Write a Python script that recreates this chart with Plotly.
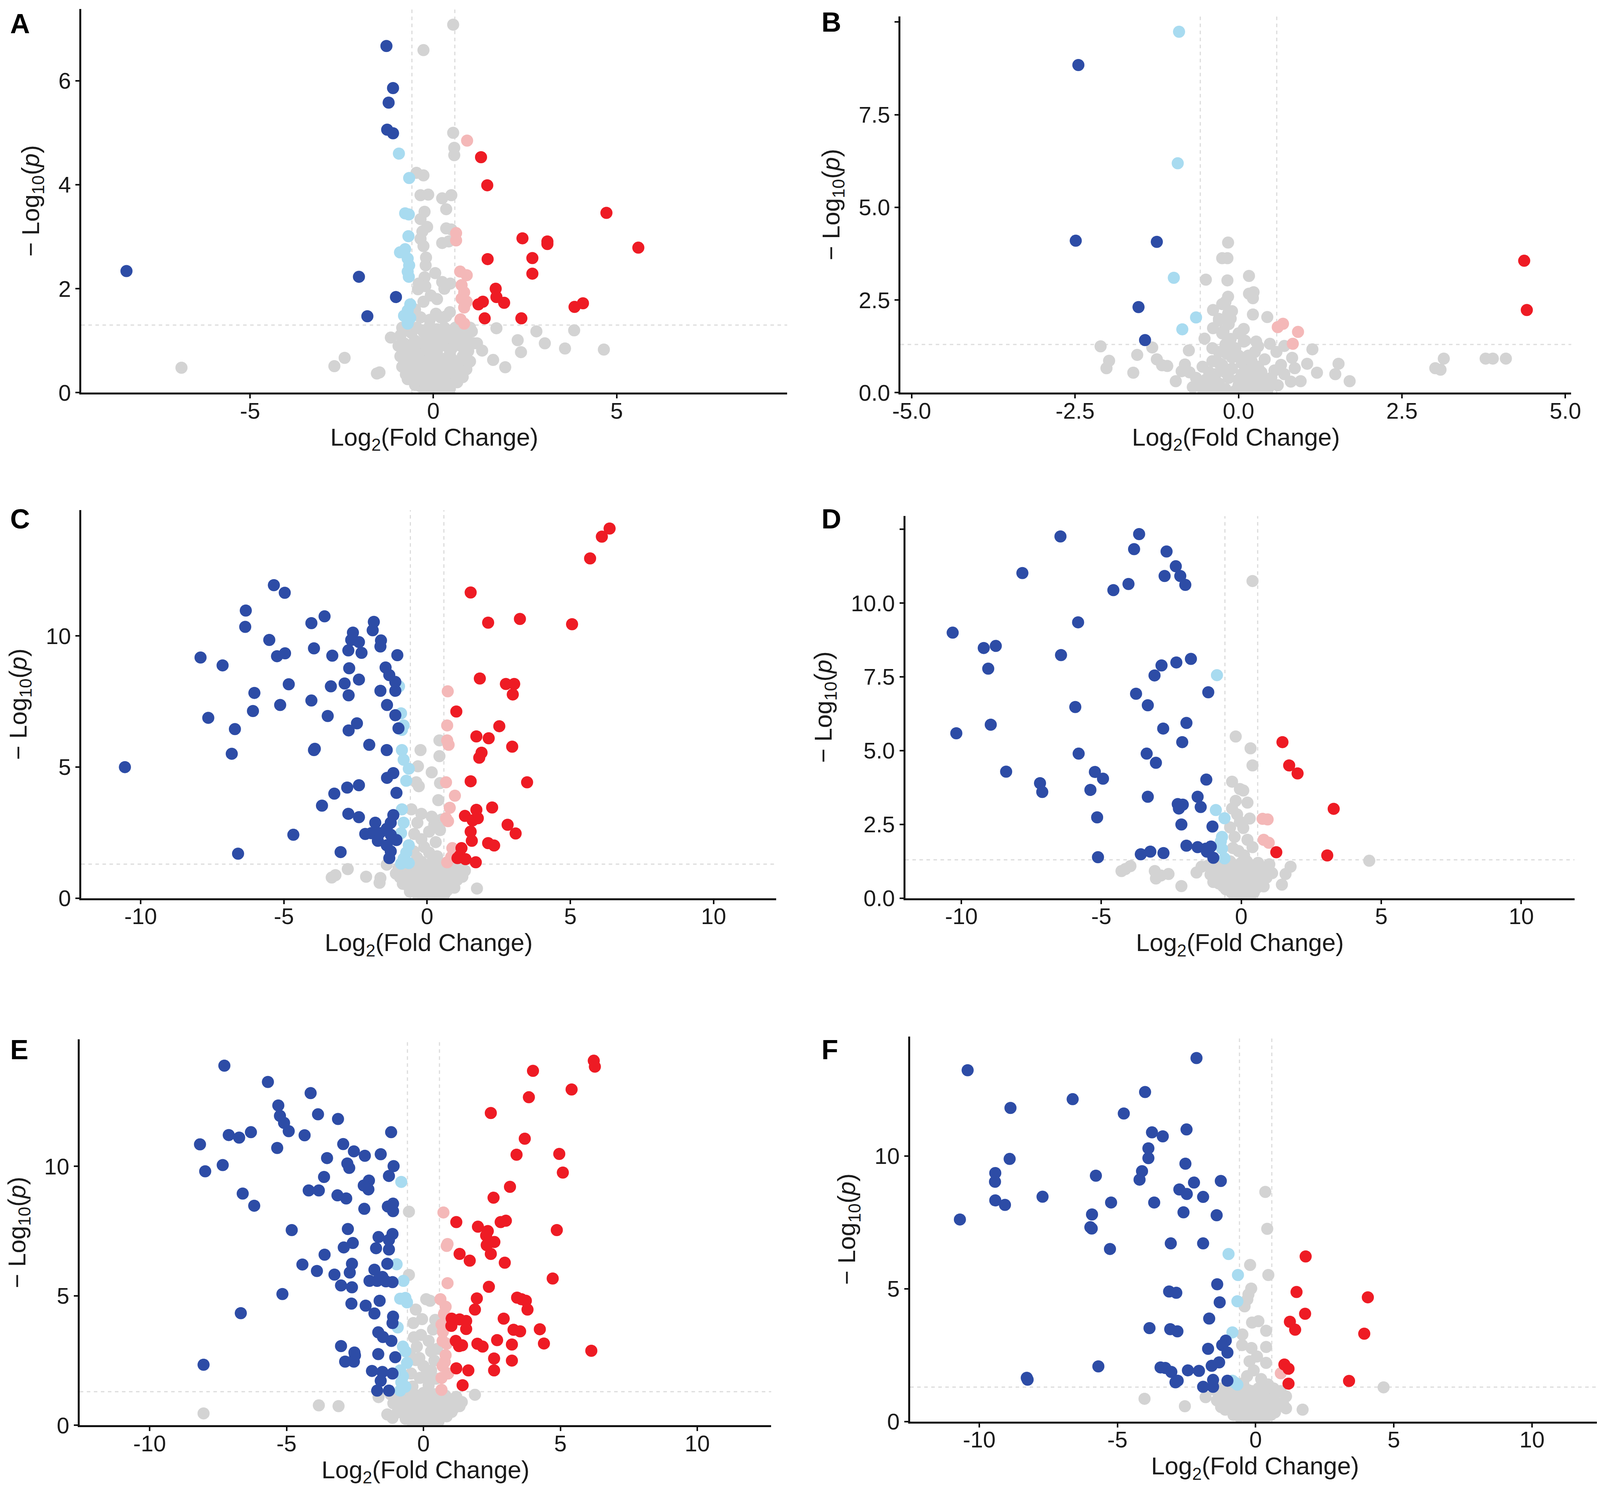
import plotly.graph_objects as go

# log2 fold change / -log10(p) pairs
A_pts = [
    (-1.28, 6.67), (-1.10, 5.86), (-1.22, 5.58), (-1.26, 5.06), (-1.10, 4.99), (-8.37, 2.34),
    (-2.03, 2.23), (-1.02, 1.84), (-1.80, 1.47),
    (-0.94, 4.60), (-0.66, 4.13), (-0.77, 3.45), (-0.67, 3.43), (-0.68, 3.01), (-0.91, 2.70),
    (-0.77, 2.76), (-0.70, 2.58), (-0.66, 2.45), (-0.70, 2.33), (-0.67, 2.23), (-0.63, 1.70),
    (-0.70, 1.58), (-0.80, 1.48), (-0.63, 1.44), (-0.70, 1.33),
    (1.30, 4.53), (1.47, 3.99), (4.72, 3.46), (2.43, 2.97), (3.11, 2.91), (3.11, 2.86),
    (5.59, 2.79), (1.48, 2.57), (2.70, 2.59), (2.70, 2.29), (1.70, 2.00), (1.72, 1.84),
    (1.93, 1.73), (1.35, 1.75), (1.23, 1.70), (3.85, 1.65), (4.08, 1.72), (1.40, 1.43), (2.40, 1.43),
    (0.92, 4.85), (0.62, 3.07), (0.62, 2.93), (0.73, 2.33), (0.91, 2.26), (0.77, 2.07),
    (0.84, 1.93), (0.77, 1.81), (0.91, 1.75), (0.84, 1.64), (0.74, 1.41), (0.84, 1.33),
    (0.54, 7.08), (-0.27, 6.59), (0.54, 5.00), (0.57, 4.71), (0.57, 4.57), (-0.46, 4.23),
    (-0.27, 4.18), (-0.35, 3.80), (-0.14, 3.81), (0.24, 3.74), (0.49, 3.80), (0.35, 3.53),
    (-0.24, 3.48), (-0.35, 3.34), (-0.17, 3.19), (0.35, 3.16), (0.49, 3.14), (-0.35, 2.96),
    (-0.27, 2.82), (0.24, 2.88), (0.42, 2.91), (-0.21, 2.45), (-0.24, 2.22), (0.24, 2.13),
    (0.46, 2.10), (-0.42, 1.99), (-0.27, 1.75), (-0.07, 1.87), (0.07, 1.52), (0.35, 1.47),
    (-0.50, 1.60), (-0.35, 1.45), (-0.10, 1.40), (0.20, 1.45), (0.45, 1.55), (-0.40, 2.10),
    (0.10, 1.80), (0.30, 2.00), (-0.20, 2.60), (0.05, 2.30), (-0.30, 3.10), (-0.22, 2.05),
    (1.72, 1.24), (2.81, 1.18), (3.84, 1.20), (2.30, 1.01), (3.04, 0.95), (3.59, 0.85),
    (4.65, 0.83), (2.39, 0.78), (1.63, 0.63), (1.96, 0.49), (-6.87, 0.48), (-2.42, 0.67),
    (-2.70, 0.51), (-1.47, 0.39), (-1.54, 0.37), (-1.16, 1.06), (-0.70, 0.26), (1.19, 0.95),
    (1.33, 0.81), (1.05, 1.18),
    (-0.90, 1.10), (-0.75, 1.20), (-0.60, 1.15), (-0.45, 1.25), (-0.30, 1.20), (-0.10, 1.28),
    (0.10, 1.22), (0.30, 1.25), (0.50, 1.20), (0.70, 1.10), (0.90, 1.05), (1.10, 0.95),
    (-0.95, 0.90), (-0.80, 0.95), (-0.65, 0.85), (-0.50, 1.00), (-0.35, 0.90), (-0.20, 1.05),
    (0.00, 0.95), (0.15, 1.05), (0.35, 0.90), (0.55, 1.00), (0.75, 0.90), (0.95, 0.80),
    (-0.90, 0.70), (-0.70, 0.65), (-0.55, 0.75), (-0.40, 0.60), (-0.25, 0.75), (-0.05, 0.70),
    (0.10, 0.80), (0.25, 0.65), (0.45, 0.75), (0.60, 0.60), (0.80, 0.70), (1.00, 0.60),
    (-0.85, 0.50), (-0.70, 0.45), (-0.50, 0.50), (-0.35, 0.40), (-0.15, 0.55), (0.00, 0.45),
    (0.20, 0.50), (0.40, 0.40), (0.55, 0.50), (0.70, 0.40), (0.90, 0.45), (-0.60, 0.30),
    (-0.45, 0.25), (-0.30, 0.30), (-0.10, 0.25), (0.10, 0.30), (0.30, 0.25), (0.50, 0.30),
    (0.65, 0.20), (-0.35, 0.12), (-0.20, 0.08), (0.00, 0.10), (0.15, 0.05), (0.30, 0.12),
    (0.45, 0.08), (-0.10, 0.02), (0.20, 0.02),
    (-0.85, 1.25), (-0.65, 1.28), (-0.55, 0.95), (-0.25, 1.15), (0.05, 1.12), (0.25, 1.05),
    (0.40, 1.10), (0.60, 1.25), (0.85, 1.20), (1.00, 1.25), (-0.75, 0.80), (-0.45, 0.75),
    (-0.15, 0.90), (0.20, 0.95), (0.50, 0.85), (0.65, 0.95), (0.85, 1.00), (-0.80, 0.60),
    (-0.60, 0.55), (-0.30, 0.60), (-0.10, 0.40), (0.05, 0.60), (0.30, 0.60), (0.50, 0.65),
    (0.75, 0.55), (0.95, 0.60), (-0.75, 0.35), (-0.55, 0.40), (-0.20, 0.35), (0.05, 0.35),
    (0.25, 0.38), (0.45, 0.45), (0.60, 0.35), (0.80, 0.30), (-0.50, 0.15), (-0.25, 0.20),
    (0.05, 0.18), (0.25, 0.15), (0.40, 0.02), (-0.15, 0.15),
]

B_pts = [
    (-2.45, 8.84), (-2.49, 4.10), (-1.25, 4.07), (-1.53, 2.31), (-1.43, 1.42),
    (-0.91, 9.74), (-0.93, 6.19), (-0.99, 3.10), (-0.65, 2.03), (-0.86, 1.71),
    (4.37, 3.56), (4.41, 2.23),
    (0.68, 1.86), (0.60, 1.77), (0.91, 1.64), (0.83, 1.32),
    (-0.16, 4.05), (-0.25, 3.63), (-0.17, 3.63), (0.16, 3.15), (-0.50, 3.05), (-0.17, 3.03),
    (-0.16, 2.59), (0.16, 2.67), (0.23, 2.71), (0.22, 2.55), (0.22, 2.11), (0.44, 2.04),
    (-0.25, 2.39), (-0.39, 2.23), (-0.16, 2.13), (-0.30, 1.99), (0.08, 1.72), (-0.39, 1.74),
    (-0.23, 1.66), (0.08, 1.38), (0.27, 1.38), (-0.52, 1.46),
    (-2.11, 1.25), (-1.55, 1.02), (-1.32, 1.22), (-1.98, 0.86), (-2.02, 0.66), (-1.61, 0.54),
    (-1.25, 0.90), (-1.17, 0.74), (-1.09, 0.72), (-0.76, 1.14), (-0.82, 0.76), (-0.87, 0.58),
    (-0.96, 0.31), (1.13, 1.17), (1.05, 0.78), (1.20, 0.54), (1.53, 0.78), (1.48, 0.50),
    (1.70, 0.31), (0.86, 0.66), (0.95, 0.31), (0.48, 1.32), (0.70, 1.26), (0.58, 1.10),
    (0.82, 0.94), (3.14, 0.92), (3.01, 0.66), (3.09, 0.62), (3.78, 0.92), (3.89, 0.92), (4.09, 0.92),
    (-0.60, 0.20), (-0.50, 0.35), (-0.45, 0.15), (-0.35, 0.50), (-0.30, 0.25), (-0.20, 0.10),
    (-0.15, 0.40), (-0.10, 0.65), (0.00, 0.20), (0.05, 0.50), (0.10, 0.30), (0.20, 0.15),
    (0.25, 0.45), (0.35, 0.25), (0.45, 0.10), (0.50, 0.40), (0.60, 0.20), (-0.55, 0.70),
    (-0.40, 0.85), (-0.25, 0.75), (-0.10, 0.95), (0.05, 0.80), (0.15, 1.00), (0.30, 0.70),
    (0.40, 0.90), (-0.30, 1.10), (-0.20, 1.30), (-0.05, 1.20), (0.10, 1.40), (0.25, 1.10),
    (-0.25, 1.60), (-0.15, 1.85), (-0.30, 1.95), (-0.10, 2.20), (-0.20, 2.45), (-0.12, 2.00),
    (0.00, 1.60), (-0.65, 0.40), (-0.75, 0.55), (0.70, 0.50), (0.80, 0.30), (0.65, 0.75),
    (-0.05, 0.05), (0.15, 0.60), (-0.40, 0.05), (0.30, 0.05), (-0.55, 0.10), (-0.35, 0.30),
    (-0.20, 0.55), (0.00, 0.35), (0.20, 0.40), (0.35, 0.55), (-0.45, 0.55), (-0.30, 0.80),
    (-0.18, 1.05), (0.00, 1.00), (0.20, 0.85), (-0.40, 1.20), (-0.12, 1.45), (0.30, 1.25),
    (-0.70, 0.15), (0.55, 0.60), (0.45, 0.30), (-0.25, 0.02), (0.10, 0.08),
]

C_pts = [
    (-5.35, 11.94), (-4.97, 11.65), (-6.33, 10.97), (-6.35, 10.35), (-3.58, 10.75), (-4.04, 10.49),
    (-1.86, 10.54), (-1.90, 10.22), (-2.59, 10.13), (-2.65, 9.85), (-2.38, 9.77), (-1.61, 9.83),
    (-1.63, 9.60), (-5.51, 9.85), (-3.95, 9.53), (-4.96, 9.34), (-5.24, 9.23), (-2.75, 9.45),
    (-2.29, 9.36), (-3.31, 9.25), (-1.04, 9.27), (-7.91, 9.18), (-7.14, 8.88), (-2.72, 8.77),
    (-1.45, 8.80), (-1.32, 8.51), (-2.38, 8.34), (-1.11, 8.25), (-2.88, 8.19), (-4.83, 8.16),
    (-3.36, 8.08), (-1.63, 7.91), (-1.11, 7.91), (-6.03, 7.83), (-2.74, 7.74), (-4.04, 7.54),
    (-5.13, 7.37), (-1.40, 7.37), (-6.08, 7.14), (-1.11, 6.98), (-3.47, 6.95), (-7.64, 6.88),
    (-2.45, 6.67), (-6.71, 6.45), (-2.74, 6.40), (-1.00, 6.48), (-2.02, 5.85), (-1.41, 5.65),
    (-3.95, 5.65), (-3.92, 5.70), (-6.82, 5.51), (-10.55, 5.00), (-1.18, 4.77), (-1.40, 4.59),
    (-2.38, 4.31), (-2.79, 4.22), (-3.24, 3.99), (-1.07, 4.02), (-3.67, 3.53), (-2.75, 3.22),
    (-2.38, 3.09), (-1.18, 3.17), (-1.81, 2.88), (-1.27, 2.88), (-2.16, 2.45), (-1.95, 2.48),
    (-1.66, 2.48), (-4.67, 2.42), (-1.41, 2.65), (-1.27, 2.42), (-1.07, 2.22), (-1.72, 2.19),
    (-1.41, 2.02), (-1.27, 1.79), (-6.60, 1.70), (-3.02, 1.76), (-1.32, 1.53), (-1.41, 1.28),
    (-0.98, 8.08), (-0.91, 7.05), (-0.82, 6.59), (-0.88, 6.42), (-0.88, 5.65), (-0.82, 5.28),
    (-0.64, 4.94), (-0.73, 4.48), (-0.88, 3.39), (-0.82, 2.88), (-0.91, 2.48), (-0.64, 2.02),
    (-0.73, 1.74), (-0.82, 1.51), (-0.64, 1.34), (-0.91, 1.32),
    (6.37, 14.10), (6.10, 13.79), (5.69, 12.96), (1.52, 11.66), (2.13, 10.51), (3.24, 10.65),
    (5.06, 10.45), (1.84, 8.38), (2.75, 8.17), (3.04, 8.17), (2.99, 7.77), (1.02, 7.12),
    (2.52, 6.56), (1.72, 6.17), (2.15, 6.10), (2.97, 5.78), (1.90, 5.55), (1.82, 5.36),
    (1.52, 4.46), (3.49, 4.42), (2.27, 3.46), (1.72, 3.37), (1.32, 3.14), (1.59, 2.97),
    (1.77, 3.05), (2.81, 2.80), (3.09, 2.47), (1.52, 2.54), (1.56, 2.19), (2.13, 2.10),
    (2.34, 2.01), (1.20, 1.91), (1.14, 1.62), (1.34, 1.49), (1.70, 1.37), (1.06, 1.53),
    (0.72, 7.89), (0.70, 6.59), (0.70, 6.02), (0.75, 5.85), (0.66, 4.42), (0.97, 3.91),
    (0.79, 3.45), (0.66, 3.05), (0.73, 2.94), (0.88, 1.91), (0.84, 1.57), (0.70, 1.37),
    (-0.23, 5.65), (0.43, 5.42), (0.43, 6.02), (-0.32, 5.03), (0.16, 4.80), (-0.29, 4.27),
    (-0.38, 4.42), (0.39, 3.74), (0.45, 4.39), (-0.55, 3.39), (-0.20, 3.22), (0.16, 3.11),
    (-0.34, 2.88), (0.07, 2.54), (-0.20, 2.25), (0.30, 2.14), (-0.47, 1.79), (0.07, 1.74),
    (-0.20, 1.39), (0.45, 2.60), (0.35, 1.60), (-0.45, 2.45), (0.50, 3.00), (-0.10, 1.95),
    (0.25, 2.80), (-0.35, 1.55), (0.20, 1.45),
    (-3.33, 0.79), (-2.77, 1.11), (-3.20, 0.88), (-2.13, 0.82), (-1.63, 0.77), (-1.66, 0.59),
    (1.74, 0.37), (1.32, 1.05), (1.23, 0.82), (-1.09, 0.94), (0.88, 0.59),
    (-1.00, 1.15), (-0.80, 1.25), (-0.60, 1.05), (-0.40, 1.20), (-0.20, 1.10), (0.00, 1.25),
    (0.20, 1.15), (0.40, 1.25), (0.60, 1.10), (0.80, 1.20), (1.00, 1.00), (-0.95, 0.80),
    (-0.75, 0.90), (-0.55, 0.75), (-0.35, 0.90), (-0.15, 0.80), (0.05, 0.95), (0.25, 0.80),
    (0.45, 0.90), (0.65, 0.75), (0.85, 0.85), (1.05, 0.70), (-0.85, 0.55), (-0.65, 0.45),
    (-0.45, 0.55), (-0.25, 0.50), (-0.05, 0.60), (0.15, 0.45), (0.35, 0.55), (0.55, 0.45),
    (0.75, 0.50), (0.95, 0.40), (-0.60, 0.25), (-0.40, 0.30), (-0.20, 0.20), (0.00, 0.30),
    (0.20, 0.20), (0.40, 0.25), (0.60, 0.15), (-0.30, 0.05), (-0.05, 0.08), (0.15, 0.03),
    (0.35, 0.06), (-0.90, 1.05), (-0.50, 0.95), (-0.10, 1.00), (0.30, 1.00), (0.70, 0.95),
    (-0.70, 0.65), (-0.30, 0.70), (0.10, 0.70), (0.50, 0.65), (0.90, 0.60), (-0.50, 0.35),
    (-0.10, 0.40), (0.30, 0.40), (0.70, 0.30), (-0.15, 0.10), (0.45, 0.10), (1.15, 1.20),
]

D_pts = [
    (-6.46, 12.26), (-3.65, 12.34), (-3.83, 11.83), (-2.67, 11.75), (-2.34, 11.25), (-7.82, 11.02),
    (-2.74, 10.92), (-2.18, 10.92), (-2.00, 10.62), (-4.03, 10.65), (-4.57, 10.44), (-5.83, 9.35),
    (-10.31, 9.00), (-9.20, 8.48), (-8.77, 8.55), (-9.04, 7.78), (-6.44, 8.24), (-1.80, 8.11),
    (-2.32, 7.99), (-2.85, 7.89), (-3.10, 7.55), (-3.76, 6.93), (-1.18, 6.98), (-3.34, 6.54),
    (-5.93, 6.48), (-1.96, 5.94), (-8.95, 5.88), (-10.18, 5.59), (-2.79, 5.75), (-2.11, 5.29),
    (-5.81, 4.90), (-3.38, 4.90), (-3.05, 4.59), (-8.40, 4.29), (-5.23, 4.28), (-4.94, 4.05),
    (-1.25, 4.02), (-7.19, 3.90), (-7.11, 3.60), (-5.39, 3.67), (-3.34, 3.44), (-1.56, 3.44),
    (-2.27, 3.19), (-2.09, 3.17), (-2.23, 3.04), (-1.45, 3.09), (-5.15, 2.74), (-2.14, 2.50),
    (-1.03, 2.43), (-1.96, 1.78), (-1.56, 1.73), (-1.27, 1.68), (-1.09, 1.75), (-1.23, 1.58),
    (-3.59, 1.49), (-3.25, 1.58), (-2.78, 1.53), (-5.12, 1.39), (-1.00, 1.37),
    (-0.87, 7.56), (-0.91, 2.99), (-0.60, 2.71), (-0.69, 2.08), (-0.73, 1.93), (-0.69, 1.68),
    (-0.60, 1.35),
    (1.47, 5.29), (1.71, 4.50), (2.01, 4.23), (3.30, 3.03), (1.25, 1.56), (3.07, 1.45),
    (0.76, 2.69), (0.94, 2.67), (0.80, 1.98), (0.98, 1.88),
    (0.40, 10.75), (-0.20, 5.48), (0.33, 5.08), (0.40, 4.50), (-0.33, 3.95), (-0.05, 3.70),
    (0.07, 3.65), (0.22, 3.24), (-0.33, 3.04), (-0.15, 2.84), (-0.05, 2.59), (0.07, 2.38),
    (-0.24, 2.08), (0.22, 1.98), (0.40, 1.73), (-0.30, 1.70), (0.10, 1.45), (-0.10, 1.60),
    (-0.40, 2.40), (0.30, 2.70), (-0.20, 3.30),
    (4.57, 1.27), (1.76, 1.07), (1.58, 0.82), (1.45, 0.46), (-4.14, 0.99), (-4.28, 0.92),
    (-3.96, 1.09), (-3.09, 0.92), (-2.87, 0.77), (-2.60, 0.82), (-3.05, 0.67), (-2.14, 0.41),
    (-1.60, 0.87), (-1.42, 1.07),
    (-1.20, 1.10), (-1.00, 1.20), (-0.80, 1.05), (-0.60, 1.15), (-0.40, 1.25), (-0.20, 1.10),
    (0.00, 1.20), (0.20, 1.25), (0.40, 1.10), (0.60, 1.20), (0.80, 1.05), (1.00, 1.15),
    (-1.10, 0.80), (-0.90, 0.90), (-0.70, 0.75), (-0.50, 0.85), (-0.30, 0.95), (-0.10, 0.80),
    (0.10, 0.90), (0.30, 0.75), (0.50, 0.85), (0.70, 0.80), (0.90, 0.70), (1.10, 0.85),
    (-1.00, 0.55), (-0.80, 0.50), (-0.60, 0.60), (-0.40, 0.45), (-0.20, 0.55), (0.00, 0.50),
    (0.20, 0.60), (0.40, 0.45), (0.60, 0.55), (0.80, 0.40), (-0.55, 0.30), (-0.35, 0.20),
    (-0.15, 0.30), (0.05, 0.20), (0.25, 0.30), (0.45, 0.20), (-0.25, 0.05), (0.00, 0.08),
    (0.20, 0.04), (-1.05, 1.00), (-0.70, 1.25), (-0.30, 1.15), (0.10, 1.05), (0.50, 1.00),
    (0.90, 0.95), (-0.85, 0.70), (-0.45, 0.65), (-0.05, 0.65), (0.35, 0.65), (0.75, 0.60),
    (-0.65, 0.40), (-0.25, 0.35), (0.15, 0.40), (0.55, 0.35), (-0.10, 0.15), (0.35, 0.10),
]

E_pts = [
    (-7.27, 13.89), (-5.68, 13.26), (-4.12, 12.83), (-5.30, 12.35), (-3.85, 12.01), (-5.24, 11.95),
    (-5.09, 11.68), (-4.92, 11.36), (-3.12, 11.83), (-1.18, 11.32), (-6.30, 11.32), (-7.11, 11.21),
    (-6.73, 11.11), (-4.34, 11.20), (-8.16, 10.85), (-5.34, 10.71), (-2.93, 10.86), (-2.54, 10.58),
    (-2.14, 10.41), (-1.56, 10.47), (-3.52, 10.32), (-7.33, 10.05), (-7.97, 9.81), (-2.78, 10.11),
    (-2.71, 9.94), (-1.09, 10.01), (-1.26, 9.63), (-3.63, 9.59), (-1.99, 9.45), (-2.18, 9.26),
    (-2.01, 9.11), (-4.19, 9.07), (-3.82, 9.07), (-6.60, 8.95), (-3.14, 8.88), (-2.82, 8.76),
    (-6.18, 8.48), (-1.11, 8.56), (-1.30, 8.45), (-1.11, 8.27), (-2.16, 8.36), (-2.76, 7.58),
    (-4.81, 7.54), (-1.13, 7.39), (-1.64, 7.27), (-1.26, 7.16), (-2.58, 7.04), (-2.91, 6.87),
    (-1.73, 6.84), (-1.26, 6.79), (-3.61, 6.59), (-4.42, 6.21), (-2.61, 6.24), (-1.32, 6.24),
    (-3.89, 5.96), (-2.69, 5.90), (-3.25, 5.82), (-1.79, 6.01), (-1.50, 5.73), (-1.97, 5.58),
    (-1.69, 5.58), (-1.37, 5.56), (-1.13, 5.53), (-3.01, 5.40), (-2.61, 5.33), (-5.15, 5.07),
    (-2.63, 4.70), (-2.11, 4.62), (-1.60, 4.81), (-1.79, 4.32), (-1.11, 4.20), (-1.13, 3.95),
    (-6.67, 4.33), (-1.65, 3.59), (-1.48, 3.41), (-1.17, 3.26), (-3.01, 3.06), (-2.52, 2.81),
    (-2.50, 2.70), (-1.65, 2.75), (-1.03, 2.63), (-2.86, 2.46), (-2.54, 2.46), (-8.03, 2.34),
    (-1.88, 2.10), (-1.50, 2.06), (-1.13, 2.00), (-1.56, 1.72), (-1.69, 1.34), (-1.26, 1.34),
    (-0.81, 9.40), (-0.98, 6.22), (-0.73, 5.58), (-0.85, 4.89), (-0.66, 4.92), (-0.60, 4.75),
    (-0.94, 3.78), (-0.75, 3.04), (-0.66, 2.86), (-0.60, 2.41), (-0.85, 2.12), (-0.75, 1.89),
    (-0.81, 1.66), (-0.66, 1.49), (-0.85, 1.34),
    (6.22, 14.08), (6.26, 13.85), (4.00, 13.69), (5.41, 12.97), (3.85, 12.67), (2.46, 12.06),
    (3.70, 11.07), (3.40, 10.45), (4.96, 10.48), (5.09, 9.76), (3.16, 9.21), (2.56, 8.79),
    (1.20, 7.85), (1.99, 7.67), (2.35, 7.50), (2.29, 7.33), (2.82, 7.85), (3.01, 7.90),
    (4.87, 7.54), (2.59, 7.08), (2.31, 6.96), (1.32, 6.62), (2.46, 6.62), (1.69, 6.36),
    (2.97, 6.28), (4.72, 5.67), (2.39, 5.35), (1.95, 4.90), (3.42, 4.93), (3.74, 4.81),
    (3.58, 4.87), (1.88, 4.47), (3.80, 4.47), (1.03, 4.12), (1.32, 4.09), (1.56, 4.03),
    (1.02, 3.84), (1.56, 3.72), (2.93, 4.12), (3.29, 3.69), (3.53, 3.63), (4.25, 3.71),
    (1.18, 3.26), (1.41, 3.09), (1.30, 3.06), (1.97, 3.15), (2.16, 3.04), (2.69, 3.29),
    (3.23, 3.12), (4.40, 3.16), (6.13, 2.88), (2.58, 2.58), (3.23, 2.50), (1.20, 2.20),
    (1.64, 2.12), (2.58, 2.12), (1.43, 1.55),
    (0.73, 8.22), (0.85, 6.93), (0.88, 7.00), (0.88, 5.49), (0.62, 4.87), (0.81, 4.58),
    (0.66, 3.89), (0.71, 3.61), (0.70, 3.26), (0.85, 3.15), (0.81, 2.71), (0.70, 2.29),
    (0.90, 2.00), (0.66, 1.83), (0.66, 1.37), (0.75, 4.30), (0.78, 2.45),
    (-0.53, 8.25), (-0.53, 5.81), (0.24, 4.81), (0.10, 4.87), (-0.28, 4.47), (-0.37, 3.95),
    (0.43, 4.07), (-0.09, 3.49), (0.19, 3.26), (-0.24, 3.04), (0.28, 2.86), (-0.28, 2.52),
    (0.00, 2.29), (0.28, 2.12), (-0.13, 1.83), (0.19, 1.55), (-0.45, 2.00), (0.45, 1.80),
    (-0.40, 1.50), (0.40, 2.50), (-0.15, 2.60), (0.10, 1.95), (-0.35, 3.40), (0.35, 3.70),
    (-0.05, 4.10), (0.50, 2.95), (-0.50, 2.75),
    (1.88, 1.18), (-8.03, 0.46), (-3.82, 0.77), (-3.10, 0.74), (-1.64, 1.09), (-1.32, 0.42),
    (-1.13, 0.29), (1.03, 0.52), (1.32, 0.74),
    (-1.20, 1.20), (-1.00, 1.05), (-0.80, 1.25), (-0.60, 1.10), (-0.40, 1.20), (-0.20, 1.15),
    (0.00, 1.25), (0.20, 1.10), (0.40, 1.20), (0.60, 1.05), (0.80, 1.15), (1.00, 1.00),
    (1.20, 1.10), (1.40, 0.90), (-1.10, 0.85), (-0.90, 0.75), (-0.70, 0.90), (-0.50, 0.80),
    (-0.30, 0.90), (-0.10, 0.75), (0.10, 0.85), (0.30, 0.80), (0.50, 0.90), (0.70, 0.75),
    (0.90, 0.80), (1.10, 0.65), (-0.95, 0.50), (-0.75, 0.55), (-0.55, 0.45), (-0.35, 0.60),
    (-0.15, 0.50), (0.05, 0.55), (0.25, 0.45), (0.45, 0.55), (0.65, 0.45), (0.85, 0.35),
    (-0.65, 0.25), (-0.45, 0.20), (-0.25, 0.30), (-0.05, 0.20), (0.15, 0.25), (0.35, 0.20),
    (0.55, 0.15), (-0.30, 0.05), (-0.05, 0.06), (0.20, 0.03), (-0.90, 1.15), (-0.50, 1.00),
    (-0.10, 1.05), (0.30, 1.00), (0.70, 0.95), (1.10, 0.95), (-0.80, 0.65), (-0.40, 0.70),
    (0.00, 0.65), (0.40, 0.70), (0.80, 0.60), (-0.60, 0.40), (-0.20, 0.40), (0.20, 0.40),
    (0.60, 0.30), (-0.15, 0.10), (0.40, 0.08),
]

F_pts = [
    (-2.14, 13.69), (-10.42, 13.23), (-4.00, 12.41), (-6.62, 12.14), (-8.87, 11.81), (-4.77, 11.60),
    (-2.50, 11.00), (-3.75, 10.89), (-3.36, 10.74), (-3.88, 10.29), (-3.88, 9.92), (-8.90, 9.89),
    (-2.54, 9.71), (-4.11, 9.43), (-4.20, 9.11), (-9.42, 9.36), (-9.43, 9.03), (-5.78, 9.26),
    (-1.26, 9.06), (-2.23, 9.00), (-2.76, 8.74), (-2.49, 8.57), (-1.90, 8.46), (-7.71, 8.47),
    (-9.42, 8.33), (-9.07, 8.16), (-5.23, 8.25), (-3.67, 8.25), (-2.61, 7.88), (-5.92, 7.80),
    (-1.41, 7.77), (-10.70, 7.61), (-5.98, 7.32), (-5.93, 7.27), (-3.07, 6.71), (-1.90, 6.71),
    (-5.27, 6.50), (-1.39, 5.17), (-3.13, 4.90), (-2.87, 4.85), (-1.30, 4.49), (-1.68, 3.88),
    (-3.84, 3.52), (-3.09, 3.48), (-2.83, 3.40), (-1.08, 3.05), (-1.21, 2.88), (-1.72, 2.74),
    (-1.02, 2.60), (-5.69, 2.08), (-3.44, 2.04), (-3.27, 2.02), (-3.05, 1.87), (-2.45, 1.93),
    (-2.05, 1.91), (-1.59, 2.10), (-1.32, 2.23), (-8.28, 1.65), (-8.25, 1.58), (-2.82, 1.54),
    (-2.90, 1.48), (-1.54, 1.57), (-1.02, 1.54), (-1.54, 1.31),
    (-0.98, 6.31), (-0.64, 5.52), (-0.66, 4.53), (-0.84, 3.36), (-0.84, 1.54), (-0.66, 1.39),
    (-0.75, 1.47),
    (1.81, 6.22), (1.48, 4.88), (4.06, 4.68), (1.79, 4.06), (1.24, 3.76), (1.43, 3.46),
    (3.93, 3.31), (1.04, 2.15), (1.19, 1.99), (3.38, 1.53), (1.19, 1.43),
    (0.91, 1.82),
    (0.35, 8.65), (0.42, 7.26), (-0.20, 5.90), (0.46, 5.52), (-0.16, 5.01), (-0.26, 4.79),
    (-0.40, 4.34), (-0.13, 3.73), (0.10, 3.78), (0.38, 3.42), (-0.48, 3.28), (-0.49, 2.88),
    (0.38, 2.81), (-0.15, 2.77), (-0.22, 2.27), (0.38, 2.21), (-0.31, 1.71), (-0.07, 1.93),
    (0.20, 1.60), (-0.45, 1.45), (0.45, 1.40), (-0.30, 4.60), (0.05, 2.45),
    (4.63, 1.29), (-4.02, 0.86), (-2.56, 0.58), (1.70, 0.45), (-1.90, 1.31), (-1.81, 0.92),
    (-1.50, 1.20), (-1.30, 1.00), (-1.10, 1.20), (-0.90, 1.10), (-0.70, 1.25), (-0.50, 1.15),
    (-0.30, 1.20), (-0.10, 1.05), (0.10, 1.25), (0.30, 1.15), (0.50, 1.20), (0.70, 1.05),
    (0.90, 1.15), (1.10, 0.95), (-1.40, 0.80), (-1.20, 0.70), (-1.00, 0.85), (-0.80, 0.75),
    (-0.60, 0.90), (-0.40, 0.80), (-0.20, 0.85), (0.00, 0.75), (0.20, 0.90), (0.40, 0.80),
    (0.60, 0.85), (0.80, 0.70), (1.00, 0.65), (-1.10, 0.45), (-0.90, 0.50), (-0.70, 0.40),
    (-0.50, 0.55), (-0.30, 0.45), (-0.10, 0.50), (0.10, 0.40), (0.30, 0.55), (0.50, 0.45),
    (0.70, 0.35), (-0.60, 0.20), (-0.40, 0.25), (-0.20, 0.15), (0.00, 0.25), (0.20, 0.15),
    (0.40, 0.20), (-0.25, 0.04), (0.00, 0.07), (0.25, 0.03), (-1.30, 1.25), (-0.95, 1.00),
    (-0.55, 1.05), (-0.15, 1.15), (0.25, 1.05), (0.65, 1.25), (-1.25, 0.55), (-0.85, 0.60),
    (-0.45, 0.65), (-0.05, 0.60), (0.35, 0.65), (0.75, 0.55), (-0.80, 0.25), (-0.30, 0.30),
    (0.15, 0.30), (0.55, 0.25), (1.10, 0.50),
]

panels = ["A", "B", "C", "D", "E", "F"]
panel_pts = [A_pts, B_pts, C_pts, D_pts, E_pts, F_pts]
x_ranges = [[-9.6, 9.65], [-5.17, 5.09], [-12.07, 12.18], [-12.0, 11.9], [-12.55, 12.7], [-12.5, 12.46]]
y_ranges = [[0, 7.38], [0, 10.15], [0, 14.8], [0, 12.95], [0, 14.9], [0, 14.5]]
x_ticks = [[-5, 0, 5], [-5, -2.5, 0, 2.5, 5], [-10, -5, 0, 5, 10],
           [-10, -5, 0, 5, 10], [-10, -5, 0, 5, 10], [-10, -5, 0, 5, 10]]
y_ticks = [[0, 2, 4, 6], [0, 2.5, 5, 7.5, 10], [0, 5, 10],
           [0, 2.5, 5, 7.5, 10, 12.5], [0, 5, 10], [0, 5, 10]]
x_one_dec = [False, True, False, False, False, False]
y_one_dec = [False, True, False, True, False, False]

fc_cut = 0.585      # log2(1.5)
fc_strong = 1.0
p_cut = 1.301       # -log10(0.05)

colors = {"ns": "#d3d3d3", "down_weak": "#a8dbf0", "down": "#2d4ca6",
          "up_weak": "#f4b8b8", "up": "#ee1b24"}

x_dom = [[0.049, 0.491], [0.562, 0.982], [0.049, 0.484], [0.565, 0.984], [0.048, 0.481], [0.568, 1.0]]
y_dom = [[0.738, 0.996], [0.738, 0.991], [0.398, 0.659], [0.398, 0.655], [0.0435, 0.303], [0.046, 0.305]]
letter_pos = [(0.004, 0.986), (0.512, 0.987), (0.004, 0.653), (0.512, 0.653), (0.004, 0.296), (0.512, 0.296)]


def classify(x, y):
    if y < p_cut or abs(x) < fc_cut:
        return "ns"
    if x < 0:
        return "down" if x <= -fc_strong else "down_weak"
    return "up" if x >= fc_strong else "up_weak"


def labels(vals, one_dec):
    return ["{:.1f}".format(v) if one_dec else "{:g}".format(v) for v in vals]


fig = go.Figure()
font_fam = "Liberation Sans, Arial, sans-serif"
tick_font = dict(family=font_fam, size=58, color="#1a1a1a")
title_font = dict(family=font_fam, size=63, color="#1a1a1a")

for i, (name, pts) in enumerate(zip(panels, panel_pts)):
    n = "" if i == 0 else str(i + 1)
    for grp in ["ns", "down_weak", "up_weak", "down", "up"]:
        sel = [p for p in pts if classify(*p) == grp]
        fig.add_trace(go.Scatter(
            x=[p[0] for p in sel], y=[p[1] for p in sel], mode="markers",
            marker=dict(color=colors[grp], size=31, line=dict(width=0)),
            xaxis="x" + n, yaxis="y" + n, showlegend=False, hoverinfo="skip"))

    ytext = labels(y_ticks[i], y_one_dec[i])
    if name in ("B", "D"):
        ytext[-1] = " "    # top tick drawn without a label in the original
    axis_common = dict(showline=True, linecolor="#111111", linewidth=5, showgrid=False,
                       zeroline=False, ticks="outside", ticklen=10, tickwidth=4,
                       tickcolor="#111111", tickfont=tick_font, automargin=False)
    fig.layout["xaxis" + n] = dict(
        axis_common, domain=x_dom[i], range=x_ranges[i], anchor="y" + n,
        tickvals=x_ticks[i], ticktext=labels(x_ticks[i], x_one_dec[i]),
        ticklabelstandoff=-18,
        title=dict(text="Log<sub>2</sub>(Fold Change)", font=title_font, standoff=10))
    fig.layout["yaxis" + n] = dict(
        axis_common, domain=y_dom[i], range=y_ranges[i], anchor="x" + n,
        tickvals=y_ticks[i], ticktext=ytext,
        title=dict(text="\u2212 Log<sub>10</sub>(<i>p</i>)", font=title_font, standoff=30))

    xr = "x" + n
    yr = "y" + n
    for xv in (-fc_cut, fc_cut):
        fig.add_shape(type="line", xref=xr, yref=yr + " domain", x0=xv, x1=xv, y0=0, y1=1,
                      line=dict(color="#dcdcdc", width=3, dash="dash"), layer="below")
    fig.add_shape(type="line", xref=xr + " domain", yref=yr, x0=0, x1=1, y0=p_cut, y1=p_cut,
                  line=dict(color="#dcdcdc", width=3, dash="dash"), layer="below")

    lx, ly = letter_pos[i]
    fig.add_annotation(text="<b>" + name + "</b>", x=lx, y=ly, xref="paper", yref="paper",
                       xanchor="left", yanchor="middle", showarrow=False,
                       font=dict(family=font_fam, size=70, color="black"))

# the photographed area is 4096 px wide (8 px page margin), so keep the whole figure inside it
fig.update_layout(width=4088, height=3807, margin=dict(l=0, r=0, t=0, b=0),
                  plot_bgcolor="white", paper_bgcolor="white")

fig.write_html("out.html")
